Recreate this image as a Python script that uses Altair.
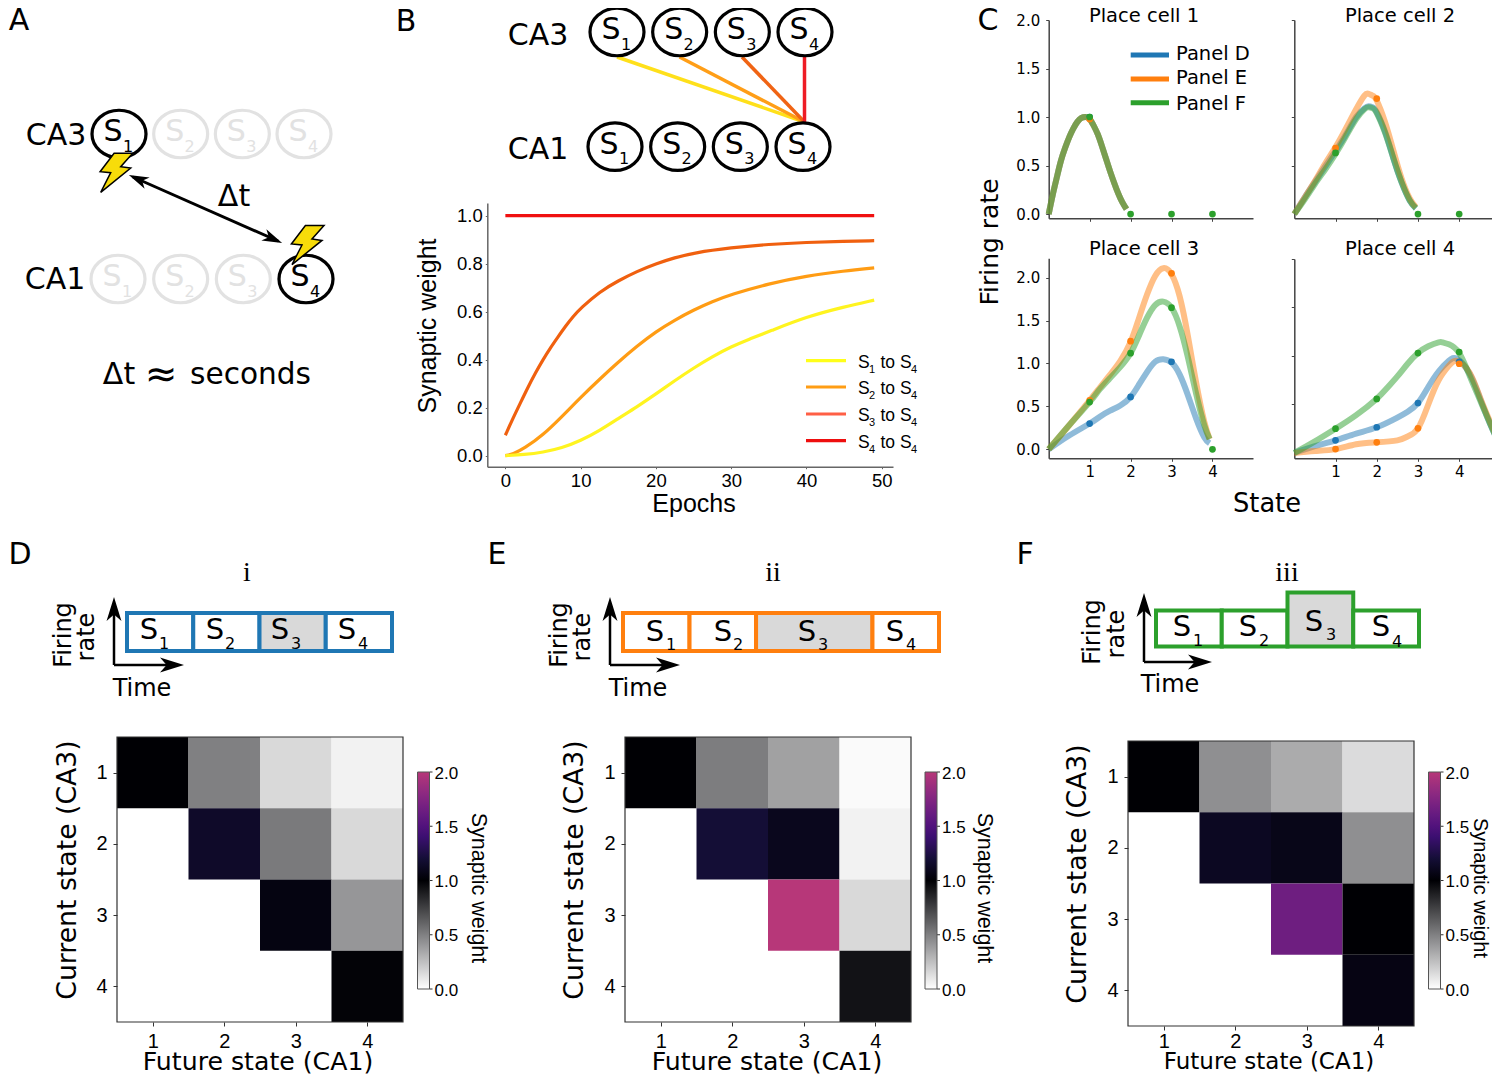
import altair as alt
import pandas as pd

W, H = 1484, 1066
SANS = "DejaVu Sans"
ARIAL = "Liberation Sans"
SERIF = "Liberation Serif"

# ---------- data ----------
STATES = [1, 2, 3, 4]
EPOCHS_S1 = [0, 2.5, 5, 7.5, 10, 12.5, 15, 17.5, 20, 22.5, 25, 27.5, 30, 32.5, 35, 40, 45, 49]
WEIGHT_S1 = [0, 0.004, 0.014, 0.032, 0.0625, 0.104, 0.155, 0.204, 0.257, 0.3125, 0.365, 0.413, 0.454, 0.487, 0.517, 0.579, 0.62, 0.648]
EPOCHS_S2 = [0, 1, 2.5, 5, 7.5, 10, 12.5, 15, 17.5, 20, 22.5, 25, 27.5, 30, 35, 40, 45, 49]
WEIGHT_S2 = [0, 0.006, 0.03, 0.086, 0.1625, 0.243, 0.318, 0.39, 0.457, 0.517, 0.565, 0.607, 0.642, 0.672, 0.717, 0.749, 0.77, 0.783]
EPOCHS_S3 = [0, 1, 2, 3, 4, 5, 6, 7, 8, 9, 10, 12.5, 15, 17.5, 20, 22.5, 25, 30, 35, 40, 45, 49]
WEIGHT_S3 = [0.085, 0.155, 0.22, 0.285, 0.345, 0.40, 0.45, 0.495, 0.54, 0.58, 0.614, 0.683, 0.729, 0.768, 0.80, 0.825, 0.845, 0.867, 0.881, 0.889, 0.893, 0.896]
EPOCHS_S4 = [0, 49]
WEIGHT_S4 = [1.0, 1.0]

C1_X = [0, .1, .2, .3, .4, .5, .6, .7, .8, .9, 1.0, 1.1, 1.2, 1.3, 1.4, 1.5, 1.6, 1.7, 1.8, 1.9]
C1_Y = [0, .2, .38, .55, .68, .79, .88, .95, .99, 1.0, .98, .91, .82, .70, .57, .44, .32, .21, .12, .05]
C2_X = [0, .25, .5, .75, 1, 1.25, 1.5, 1.7, 1.8, 1.9, 2, 2.2, 2.4, 2.6, 2.8, 2.95]
C2_D = [0, .17, .33, .49, .65, .82, 1.0, 1.09, 1.11, 1.10, 1.05, .85, .58, .33, .14, .06]
C2_E = [0, .17, .34, .52, .69, .88, 1.08, 1.22, 1.24, 1.22, 1.17, .95, .66, .37, .16, .07]
C2_F = [0, .15, .31, .46, .62, .8, .98, 1.08, 1.1, 1.09, 1.04, .84, .58, .33, .14, .06]
C3_X = [0, .5, 1, 1.25, 1.5, 1.75, 2, 2.2, 2.4, 2.6, 2.8, 3, 3.2, 3.4, 3.6, 3.8, 3.93]
C3_D = [0, .16, .3, .38, .45, .51, .61, .75, .9, 1.02, 1.05, 1.01, .87, .63, .36, .14, .07]
C3_E = [0, .28, .57, .72, .87, 1.03, 1.25, 1.52, 1.8, 2.02, 2.11, 2.04, 1.78, 1.32, .78, .32, .12]
C3_F = [0, .28, .55, .7, .83, .96, 1.12, 1.32, 1.53, 1.68, 1.72, 1.65, 1.43, 1.07, .65, .28, .12]
C4_XD = [0, .5, 1, 1.5, 2, 2.5, 2.75, 3, 3.25, 3.5, 3.75, 3.95, 4.25, 4.5, 4.75, 4.93]
C4_D = [0, .07, .13, .2, .265, .365, .425, .515, .68, .84, .95, .97, .82, .57, .3, .13]
C4_E = [0, .02, .04, .09, .11, .13, .17, .254, .5, .75, .9, .95, .83, .58, .32, .14]
C4_XF = [0, .5, 1, 1.5, 2, 2.25, 2.5, 2.75, 3, 3.25, 3.5, 3.6, 3.75, 4, 4.25, 4.5, 4.75, 4.93]
C4_F = [0, .12, .25, .39, .56, .67, .79, .92, 1.03, 1.1, 1.14, 1.14, 1.12, 1.03, .8, .55, .3, .13]

DOTS1 = {"D": ([1], [1.0]), "E": ([1], [.98]), "F": ([1, 2, 3, 4], [1.0, 0, 0, 0])}
DOTS2 = {"D": ([], []), "E": ([1, 2], [.68, 1.19]), "F": ([1, 3, 4], [.63, 0, 0])}
DOTS3 = {"D": ([1, 2, 3], [.3, .61, 1.02]), "E": ([1, 2, 3], [.57, 1.26, 2.05]), "F": ([1, 2, 3, 4], [.55, 1.12, 1.65, 0])}
DOTS4 = {"D": ([1, 2, 3, 4], [.13, .265, .515, .94]), "E": ([1, 2, 3, 4], [.04, .11, .254, .92]), "F": ([1, 2, 3, 4], [.25, .557, 1.03, 1.04])}

HEAT_ROW = [1, 1, 1, 1, 2, 2, 2, 3, 3, 4]
HEAT_COL = [1, 2, 3, 4, 2, 3, 4, 3, 4, 4]
HEAT_D = [1.0, .5, .15, .05, 1.15, .52, .15, 1.05, .41, .99]
HEAT_E = [1.0, .51, .37, .02, 1.2, 1.1, .05, 2.0, .15, .93]
HEAT_F = [1.0, .44, .33, .14, 1.12, 1.08, .44, 1.65, 1.0, 1.06]
BAR_TICKS = [0, .5, 1, 1.5, 2]

EDGES_D = [0, 1, 2, 3, 4]
EDGES_E = [0, 1, 2, 3.75, 4.75]
EDGES_F = [0, 1, 2, 3, 4]
RATE_D = [1, 1, 1, 1]
RATE_E = [1, 1, 1, 1]
RATE_F = [1, 1, 1.5, 1]

COLOR_DOMAIN = [0, 1, 1.2, 1.4, 1.5, 1.6, 1.8, 2.0]
COLOR_RANGE = ["#ffffff", "#000004", "#140e36", "#3b0f70", "#51127c", "#641a80", "#8c2981", "#b73779"]
TAB = {"D": "#1f77b4", "E": "#ff7f0e", "F": "#2ca02c"}

# ---------- helpers ----------
ONE = alt.Data(values=[{"k": 0}])
ELLIPSE = "M-1,0A1,0.88 0 1,1 1,0A1,0.88 0 1,1 -1,0Z"
ARROW = "M1,0L-1,-0.62L-0.45,0L-1,0.62Z"
BOLT = "M-0.13,-0.97L0.8,-0.97L0.2,-0.3L0.7,-0.23L-0.8,0.98L-0.3,0L-0.83,-0.05Z"
layers = []


def sc(domain, rng):
    return alt.Scale(domain=list(domain), range=[r - 8 for r in rng], nice=False, zero=False)


def T(text, x, y, size, font=SANS, angle=0, align="center", color="black"):
    # centre the glyphs on the given point: Vega's "middle" baseline sits slightly high
    nudge = 0.055 * size
    if angle == 270:
        x += nudge
    elif angle == 90:
        x -= nudge
    else:
        y += nudge
    layers.append(
        alt.Chart(ONE)
        .mark_text(text=text, fontSize=size, font=font, angle=angle, align=align, baseline="middle", color=color)
        .encode(x=alt.value(x - 8), y=alt.value(y - 8))
    )


def seg(x1, y1, x2, y2, color="black", w=3):
    df = pd.DataFrame({"a": [0, 1], "b": [0, 1]})
    layers.append(
        alt.Chart(df)
        .mark_line(color=color, strokeWidth=w)
        .encode(
            x=alt.X("a:Q", scale=sc([0, 1], [x1, x2]), axis=None),
            y=alt.Y("b:Q", scale=sc([0, 1], [y1, y2]), axis=None),
        )
    )


def sym(shape, x, y, size, fill, stroke=None, sw=0, angle=0):
    kw = dict(shape=shape, filled=True, size=size, fill=fill, opacity=1, angle=angle)
    if stroke:
        kw.update(stroke=stroke, strokeWidth=sw)
    layers.append(alt.Chart(ONE).mark_point(**kw).encode(x=alt.value(x - 8), y=alt.value(y - 8)))


def nodes(xr, y, color="black", states=STATES, dxs=-6, dys=-2, dxd=9, dyd=12.5, sw=3.2):
    df = pd.DataFrame({"state": states, "label": [str(s) for s in states]})
    xe = alt.X("state:Q", scale=sc([1, 4], xr), axis=None)
    yv = alt.value(y - 8)
    base = alt.Chart(df)
    layers.append(
        base.mark_point(shape=ELLIPSE, size=2916, filled=False, color=color, opacity=1, strokeWidth=sw).encode(x=xe, y=yv)
    )
    layers.append(base.mark_text(text="S", fontSize=30, font=SANS, color=color, dx=dxs, dy=dys).encode(x=xe, y=yv))
    layers.append(base.mark_text(fontSize=16, font=SANS, color=color, dx=dxd, dy=dyd).encode(x=xe, y=yv, text="label:N"))


# ---------- panel letters ----------
T("A", 19, 19.5, 30)
T("B", 406, 20, 30)
T("C", 988, 19, 30)
T("D", 20, 553, 30)
T("E", 497, 553, 30)
T("F", 1025, 553, 30)

# ---------- panel A ----------
T("CA3", 56, 134, 30)
T("CA1", 55, 278, 30)
nodes([119, 304], 134, "#e2e2e2")
nodes([118, 306], 279, "#e2e2e2")
nodes([119, 304], 134, "black", states=[1])
nodes([118, 306], 279, "black", states=[4])
sym(BOLT, 116.7, 172.7, 1600, "#f7dc0a", "black", 1.5)
sym(BOLT, 308, 245, 1600, "#f7dc0a", "black", 1.5)
seg(133, 177, 278, 241, "black", 3)
sym(ARROW, 138, 179, 400, "black", angle=204)
sym(ARROW, 273, 239, 400, "black", angle=24)
T("Δt", 234, 195, 30)
T("Δt", 119, 373, 30)
T("≈", 161, 373, 39)
T("seconds", 250.5, 373, 29.6)

# ---------- panel B diagram ----------
T("CA3", 538, 34, 30)
T("CA1", 538, 148, 30)
for s, col in zip(STATES, ["#ffe01a", "#ff9e17", "#f06414", "#ee1c25"]):
    link = pd.DataFrame({"state": [s, 4], "layer": [1, 0]})
    layers.append(
        alt.Chart(link)
        .mark_line(color=col, strokeWidth=3.5)
        .encode(
            x=alt.X("state:Q", scale=sc([1, 4], [617, 804.5]), axis=None),
            y=alt.Y("layer:Q", scale=sc([0, 1], [122, 57]), axis=None),
        )
    )
nodes([617, 805], 32)
nodes([615, 803], 146.7)

# ---------- panel B curves ----------
bx = sc([-2.4, 51.5], [487.3, 893])
by = sc([-0.046, 1.053], [466.7, 203])
first = True
for ep, wt, col in [
    (EPOCHS_S4, WEIGHT_S4, "#f01010"),
    (EPOCHS_S3, WEIGHT_S3, "#f0600f"),
    (EPOCHS_S2, WEIGHT_S2, "#ff9c14"),
    (EPOCHS_S1, WEIGHT_S1, "#fff41f"),
]:
    df = pd.DataFrame({"e": ep, "w": wt})
    if first:
        xax = alt.Axis(orient="bottom", offset=-(H - (466.7 - 8)), values=[0, 10, 20, 30, 40, 50], grid=False, title=None,
                       labelFont=ARIAL, labelFontSize=18.5, labelColor="black", labelPadding=3, tickSize=2,
                       tickColor="#666", domainColor="#666", domainWidth=1.5, labelOverlap=False)
        yax = alt.Axis(orient="left", offset=-(487.3 - 8), values=[0, .2, .4, .6, .8, 1.0], format=".1f", grid=False, title=None,
                       labelFont=ARIAL, labelFontSize=18.5, labelColor="black", labelPadding=3, tickSize=2,
                       tickColor="#666", domainColor="#666", domainWidth=1.5, labelOverlap=False)
        first = False
    else:
        xax, yax = None, None
    layers.append(
        alt.Chart(df)
        .mark_line(color=col, strokeWidth=3.2, interpolate="basis")
        .encode(x=alt.X("e:Q", scale=bx, axis=xax), y=alt.Y("w:Q", scale=by, axis=yax))
    )
T("Epochs", 694, 503, 25, ARIAL)
T("Synaptic weight", 427, 326, 25, ARIAL, angle=270)
for i, (yy, col) in enumerate(zip([360.7, 387, 414, 440.7], ["#ffff1a", "#ff9d14", "#ff5f45", "#ee0e0e"])):
    seg(806, yy, 846, yy, col, 3.2)
    T("S", 858, yy + 1, 17.5, ARIAL, align="left")
    T(str(i + 1), 869, yy + 8.5, 11, ARIAL, align="left")
    T("to", 880.5, yy + 1, 17.5, ARIAL, align="left")
    T("S", 900, yy + 1, 17.5, ARIAL, align="left")
    T("4", 911, yy + 8.5, 11, ARIAL, align="left")

# ---------- panel C ----------
cells = [
    ("Place cell 1", 1144, 15, [1048.7, 1253], [218.3, 20], [-0.044, 2.0], [0, .5, 1, 1.5, 2], True, False,
     {"D": (C1_X, C1_Y), "E": (C1_X, C1_Y), "F": (C1_X, C1_Y)}, DOTS1),
    ("Place cell 2", 1400, 15, [1294.3, 1500], [218.3, 20], [-0.044, 2.0], [.5, 1, 1.5, 2], False, False,
     {"D": (C2_X, C2_D), "E": (C2_X, C2_E), "F": (C2_X, C2_F)}, DOTS2),
    ("Place cell 3", 1144, 247.7, [1048.7, 1253], [458.3, 258.3], [-0.105, 2.225], [0, .5, 1, 1.5, 2], True, True,
     {"D": (C3_X, C3_D), "E": (C3_X, C3_E), "F": (C3_X, C3_F)}, DOTS3),
    ("Place cell 4", 1400, 247.7, [1294.3, 1500], [458.3, 259], [-0.055, 2.0], [.5, 1, 1.5, 2], False, True,
     {"D": (C4_XD, C4_D), "E": (C4_XD, C4_E), "F": (C4_XF, C4_F)}, DOTS4),
]
for title, tx, ty, xr, yr, ydom, yticks, ylab, xlab, curves, dots in cells:
    T(title, tx, ty, 19.5)
    xs = sc([0, 4.99], xr)
    ys = sc(ydom, yr)
    first = True
    for k in "DEF":
        cx, cy = curves[k]
        df = pd.DataFrame({"x": cx, "y": cy})
        if first:
            xax = alt.Axis(orient="bottom", offset=-(H - (yr[0] - 8)), values=STATES, grid=False, title=None, labels=xlab,
                           labelFont=SANS, labelFontSize=15, labelColor="black", labelPadding=3, tickSize=3,
                           tickColor="#444", domainColor="#444", domainWidth=1.5, labelOverlap=False)
            yax = alt.Axis(orient="left", offset=-(xr[0] - 8), values=yticks, format=".1f", grid=False, title=None, labels=ylab,
                           labelFont=SANS, labelFontSize=15, labelColor="black", labelPadding=6, tickSize=3,
                           tickColor="#444", domainColor="#444", domainWidth=1.5, labelOverlap=False)
            first = False
        else:
            xax, yax = None, None
        layers.append(
            alt.Chart(df)
            .mark_line(color=TAB[k], strokeWidth=6, opacity=0.5, interpolate="natural")
            .encode(x=alt.X("x:Q", scale=xs, axis=xax), y=alt.Y("y:Q", scale=ys, axis=yax))
        )
    for k in "DEF":
        px, py = dots[k]
        if px:
            layers.append(
                alt.Chart(pd.DataFrame({"x": px, "y": py}))
                .mark_circle(color=TAB[k], size=45, opacity=1)
                .encode(x=alt.X("x:Q", scale=xs, axis=None), y=alt.Y("y:Q", scale=ys, axis=None))
            )
T("Firing rate", 989, 242, 25, angle=270)
T("State", 1267, 503, 25.7)
for name, yy, ty in zip("DEF", [55, 79, 102.7], [52.7, 76.7, 102.7]):
    seg(1130.7, yy, 1169, yy, TAB[name], 5)
    T(f"Panel {name}", 1176, ty, 19.5, align="left")


# ---------- panels D, E, F : schematics ----------
def schematic(edges, rates, color, xr, yr, rdom, roman, rx, labels, arrow_x, arrow_top, arrow_y, arrow_right,
              fx, rx2, fy, time_x, time_y):
    T(roman, rx, 571.7, 28, SERIF)
    xs = sc([edges[0], edges[-1]], xr)
    ys = sc(rdom, yr)
    for i in range(4):
        df = pd.DataFrame({"a": [edges[i]], "b": [edges[i + 1]], "c": [0], "d": [rates[i]]})
        layers.append(
            alt.Chart(df)
            .mark_rect(stroke=color, strokeWidth=4, fill="#d9d9d9" if i == 2 else "#ffffff", opacity=1)
            .encode(x=alt.X("a:Q", scale=xs, axis=None), x2="b:Q", y=alt.Y("c:Q", scale=ys, axis=None), y2="d:Q")
        )
    for i, (sx, sy, dx, dy) in enumerate(labels):
        T("S", sx, sy, 29)
        T(str(i + 1), dx, dy, 16)
    seg(arrow_x, arrow_y, arrow_x, arrow_top + 10, "black", 2.5)
    seg(arrow_x, arrow_y, arrow_right - 10, arrow_y, "black", 2.5)
    sym(ARROW, arrow_x, arrow_top + 12, 576, "black", angle=270)
    sym(ARROW, arrow_right - 12, arrow_y, 576, "black", angle=0)
    T("Firing", fx, fy, 24, angle=270)
    T("rate", rx2, fy + 2, 24, angle=270)
    T("Time", time_x, time_y, 24)


schematic(EDGES_D, RATE_D, TAB["D"], [127, 392], [651, 613], [0, 1], "i", 247,
          [(149, 628, 164, 643), (215, 628, 230, 643), (280, 628, 296, 643), (347, 628, 363, 643)],
          114, 597, 665, 184, 63, 86, 635, 142, 688)
schematic(EDGES_E, RATE_E, TAB["E"], [623, 939], [651, 613], [0, 1], "ii", 773,
          [(655, 630, 671, 644), (723, 630, 738, 644), (807, 630, 823, 644), (895, 630, 911, 644)],
          610, 597, 665, 680, 559, 582, 635, 638, 688)
schematic(EDGES_F, RATE_F, TAB["F"], [1156, 1419], [646.5, 610.5], [0, 1], "iii", 1287,
          [(1182, 625, 1198, 640), (1248, 625, 1264, 640), (1314, 620, 1331, 634), (1381, 625, 1397, 641)],
          1144, 593, 662, 1212, 1092, 1116, 632, 1170, 684)


# ---------- panels D, E, F : heat maps ----------
def heat(values, xr, yr, bar_x, ytitle_x, ytitle_y, xtitle_x, xtitle_y, xtitle_size, wt_x, wt_y, wt_size, pad):
    df = pd.DataFrame({"row": HEAT_ROW, "col": HEAT_COL, "v": values})
    df["x0"] = df["col"] - .5
    df["x1"] = df["col"] + .5
    df["y0"] = df["row"] - .5
    df["y1"] = df["row"] + .5
    xs = sc([.5, 4.5], xr)
    ys = sc([.5, 4.5], yr)
    legend = alt.Legend(orient="none", legendX=bar_x - 8, legendY=772 - 8, title=None,
                        gradientLength=217, gradientThickness=12, values=BAR_TICKS, labelExpr="''",
                        gradientStrokeColor="#555", gradientStrokeWidth=1, direction="vertical")
    xax = alt.Axis(orient="bottom", offset=-(H - (yr[1] - 8)), values=STATES, grid=False, title=None, domain=False,
                   labelFont=ARIAL, labelFontSize=20, labelColor="black", labelPadding=pad, tickSize=4,
                   tickColor="#333", labelOverlap=False)
    yax = alt.Axis(orient="left", offset=-(xr[0] - 8), values=STATES, grid=False, title=None, domain=False,
                   labelFont=ARIAL, labelFontSize=20, labelColor="black", labelPadding=6, tickSize=4,
                   tickColor="#333", labelOverlap=False)
    layers.append(
        alt.Chart(df)
        .mark_rect(opacity=1)
        .encode(
            x=alt.X("x0:Q", scale=xs, axis=xax), x2="x1:Q",
            y=alt.Y("y0:Q", scale=ys, axis=yax), y2="y1:Q",
            color=alt.Color("v:Q", scale=alt.Scale(domain=COLOR_DOMAIN, range=COLOR_RANGE, interpolate="rgb"), legend=legend),
        )
    )
    frame = pd.DataFrame({"a": [.5], "b": [4.5], "c": [.5], "d": [4.5]})
    layers.append(
        alt.Chart(frame)
        .mark_rect(filled=False, stroke="#333", strokeWidth=1.2, opacity=1, fillOpacity=0)
        .encode(x=alt.X("a:Q", scale=xs, axis=None), x2="b:Q", y=alt.Y("c:Q", scale=ys, axis=None), y2="d:Q")
    )
    bar = pd.DataFrame({"tick": BAR_TICKS, "label": [f"{t:.1f}" for t in BAR_TICKS]})
    bar_y = alt.Y("tick:Q", scale=sc([0, 2], [989, 772]), axis=None)
    layers.append(
        alt.Chart(bar).mark_rule(color="#333", strokeWidth=1).encode(
            x=alt.value(bar_x + 12 - 8), x2=alt.value(bar_x + 15 - 8), y=bar_y)
    )
    layers.append(
        alt.Chart(bar).mark_text(font=ARIAL, fontSize=17, align="left", baseline="middle", color="black", dy=1.5).encode(
            x=alt.value(bar_x + 17 - 8), y=bar_y, text="label:N")
    )
    T("Future state (CA1)", xtitle_x, xtitle_y, xtitle_size)
    T("Current state (CA3)", ytitle_x, ytitle_y, 26.7, angle=270)
    T("Synaptic weight", wt_x, wt_y, wt_size, ARIAL, angle=90)


heat(HEAT_D, [117, 403], [737, 1022], 417.5, 67, 870, 258, 1060.5, 25.2, 479, 888, 21.5, 5)
heat(HEAT_E, [625, 911], [737, 1022], 925, 574, 870, 767, 1060.5, 25.2, 985, 888, 21.5, 5)
heat(HEAT_F, [1128, 1414], [741, 1026], 1428.5, 1077, 874, 1269, 1061, 23, 1481, 888, 20, 1)

chart = (
    alt.layer(*layers)
    .resolve_scale(x="independent", y="independent", color="independent")
    .properties(width=W, height=H, padding=0, autosize=alt.AutoSizeParams(type="none"), background="white")
    .configure_view(stroke=None)
)
chart.save("out.html", embed_options={"renderer": "svg", "actions": False})
